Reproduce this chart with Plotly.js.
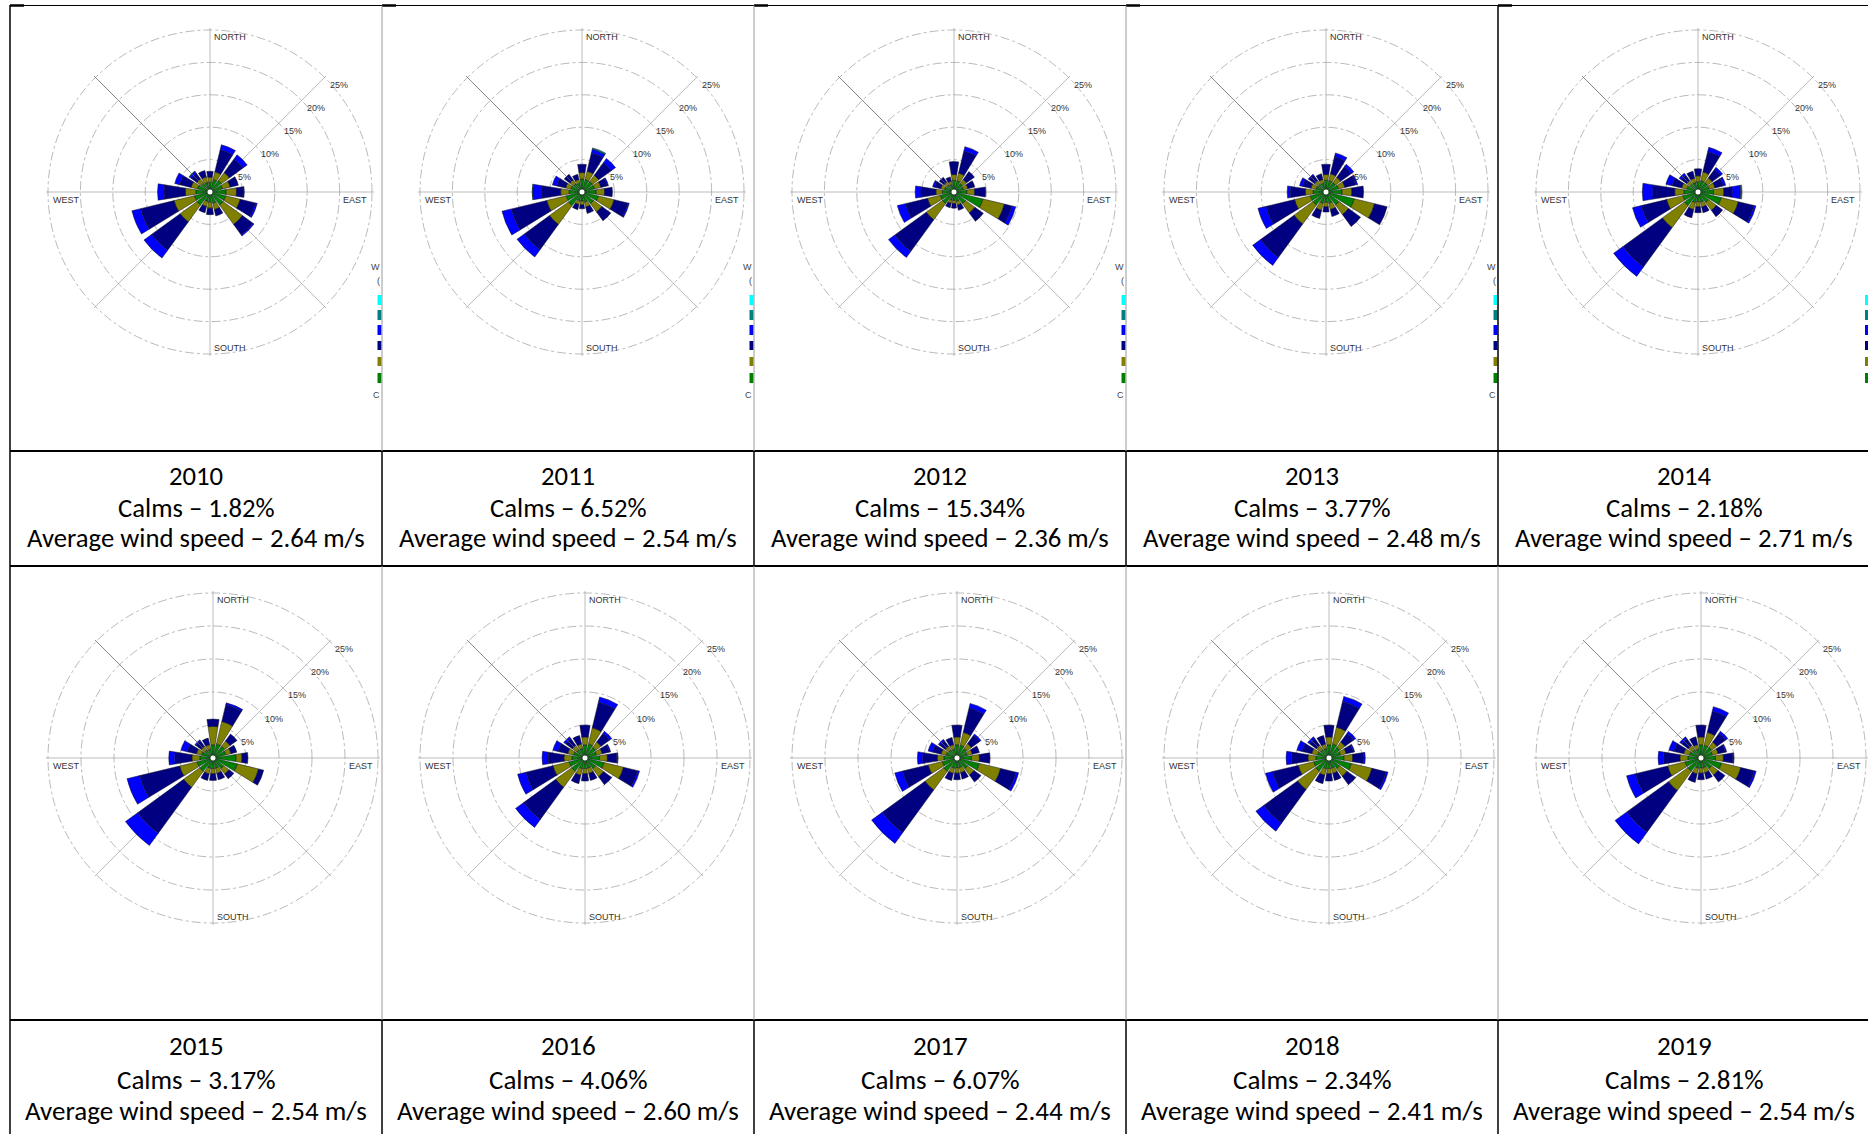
<!DOCTYPE html>
<html>
<head>
<meta charset="utf-8">
<script src="https://cdn.plot.ly/plotly-3.0.1.min.js"></script>
<style>
  html, body { margin: 0; padding: 0; background: #ffffff; }
  #chart { width: 1868px; height: 1134px; }
</style>
</head>
<body>
<div id="chart"></div>
<script>
// ---------------------------------------------------------------------------
// Wind roses 2010–2019: frequency (%) per direction, stacked by wind-speed class
// ---------------------------------------------------------------------------
const directions = ['N','NNE','NE','ENE','E','ESE','SE','SSE','S','SSW','SW','WSW','W','WNW','NW','NNW'];
const speedBins  = ['0.50 - 2.10 m/s','2.10 - 3.60 m/s','3.60 - 5.70 m/s','5.70 - 8.80 m/s','8.80 - 11.10 m/s','>= 11.10 m/s'];
const binColors  = ['#008000','#808000','#000080','#0000ff','#008080','#00ffff'];

const years    = [2010, 2011, 2012, 2013, 2014, 2015, 2016, 2017, 2018, 2019];
const calms    = [1.82, 6.52, 15.34, 3.77, 2.18, 3.17, 4.06, 6.07, 2.34, 2.81];
const avgSpeed = [2.64, 2.54, 2.36, 2.48, 2.71, 2.54, 2.60, 2.44, 2.41, 2.54];

// rows: speed classes (low → high); columns: directions N … NNW
const rose2010 = [
  [1.5, 2.0, 2.2, 2.0, 2.5, 2.5, 2.5, 1.8, 1.6, 1.5, 2.5, 2.5, 2.2, 2.0, 1.7, 1.5],
  [0.8, 1.2, 1.5, 1.2, 1.6, 2.3, 3.7, 1.0, 0.9, 0.8, 3.2, 3.2, 1.6, 1.0, 0.8, 0.9],
  [0.9, 3.5, 2.6, 1.3, 1.0, 2.4, 2.0, 1.0, 1.0, 1.0, 5.4, 5.3, 3.3, 1.8, 1.0, 1.0],
  [0.0, 0.8, 0.8, 0.0, 0.2, 0.3, 0.2, 0.0, 0.0, 0.0, 1.5, 1.4, 1.0, 0.8, 0.4, 0.0],
  [0.0, 0.0, 0.0, 0.0, 0.0, 0.0, 0.0, 0.0, 0.0, 0.0, 0.0, 0.0, 0.0, 0.0, 0.1, 0.0]
];
const rose2011 = [
  [2.0, 2.0, 2.0, 2.0, 2.2, 2.6, 2.2, 1.6, 1.4, 1.4, 2.6, 2.5, 2.0, 1.8, 1.6, 1.4],
  [1.0, 1.3, 1.2, 1.0, 1.3, 2.5, 1.6, 0.8, 0.6, 0.6, 3.6, 3.1, 1.3, 0.8, 0.7, 0.6],
  [1.3, 2.9, 2.4, 1.0, 1.2, 2.2, 1.7, 1.0, 0.6, 0.8, 4.8, 5.6, 2.9, 1.4, 1.1, 0.8],
  [0.0, 0.6, 0.8, 0.2, 0.0, 0.2, 0.0, 0.0, 0.0, 0.0, 1.4, 1.5, 1.4, 0.7, 0.0, 0.0],
  [0.0, 0.2, 0.0, 0.0, 0.0, 0.0, 0.0, 0.0, 0.0, 0.0, 0.0, 0.0, 0.1, 0.0, 0.0, 0.0]
];
const rose2012 = [
  [1.8, 1.8, 1.6, 1.5, 2.0, 4.6, 2.2, 1.5, 1.3, 1.3, 2.2, 2.2, 1.8, 1.5, 1.3, 1.2],
  [0.9, 1.2, 0.8, 0.7, 1.2, 3.4, 1.8, 0.6, 0.5, 0.5, 3.1, 2.0, 1.0, 0.6, 0.6, 0.5],
  [2.0, 3.5, 1.5, 1.1, 1.7, 1.2, 1.6, 0.8, 0.7, 0.7, 6.0, 3.5, 2.3, 1.0, 0.9, 0.7],
  [0.0, 0.7, 0.0, 0.0, 0.0, 0.6, 0.0, 0.0, 0.0, 0.0, 1.2, 1.3, 0.9, 0.3, 0.0, 0.0],
  [0.0, 0.0, 0.0, 0.0, 0.0, 0.0, 0.0, 0.0, 0.0, 0.0, 0.0, 0.0, 0.0, 0.0, 0.0, 0.0]
];
const rose2013 = [
  [1.8, 1.8, 1.8, 2.0, 2.5, 4.5, 2.5, 1.8, 1.6, 1.8, 2.5, 2.5, 2.0, 1.6, 1.5, 1.4],
  [0.9, 1.1, 1.0, 1.0, 1.5, 3.2, 1.8, 1.0, 0.7, 1.1, 3.6, 2.5, 1.2, 0.8, 0.7, 0.6],
  [1.6, 2.7, 2.0, 1.7, 1.8, 2.0, 2.3, 1.1, 0.8, 1.3, 6.4, 4.5, 2.3, 1.3, 1.0, 0.9],
  [0.0, 0.6, 0.5, 0.3, 0.0, 0.0, 0.0, 0.0, 0.0, 0.0, 1.5, 1.3, 0.5, 0.5, 0.2, 0.0],
  [0.0, 0.0, 0.0, 0.0, 0.0, 0.0, 0.0, 0.0, 0.0, 0.0, 0.0, 0.0, 0.0, 0.0, 0.0, 0.0]
];
const rose2014 = [
  [1.6, 1.8, 1.8, 1.8, 2.4, 3.7, 2.0, 1.6, 1.5, 1.7, 2.6, 2.4, 2.2, 1.8, 1.5, 1.5],
  [0.9, 1.4, 0.9, 0.9, 1.6, 2.7, 1.5, 0.8, 0.8, 1.1, 4.2, 2.6, 1.4, 0.8, 0.7, 0.7],
  [1.1, 3.2, 1.6, 1.3, 1.3, 2.5, 1.2, 0.9, 0.9, 1.3, 7.5, 4.0, 3.4, 1.5, 1.0, 1.1],
  [0.0, 0.7, 0.4, 0.4, 1.3, 0.3, 0.0, 0.0, 0.0, 0.0, 1.8, 1.4, 1.6, 1.0, 0.4, 0.0],
  [0.0, 0.0, 0.0, 0.0, 0.2, 0.0, 0.0, 0.0, 0.0, 0.0, 0.0, 0.0, 0.0, 0.0, 0.0, 0.0]
];
const rose2015 = [
  [2.0, 2.2, 2.2, 2.0, 3.5, 3.8, 2.0, 1.6, 1.6, 1.6, 2.5, 2.5, 2.0, 1.8, 1.5, 1.4],
  [2.8, 3.5, 1.0, 0.8, 0.9, 3.3, 1.0, 0.8, 0.8, 0.9, 3.0, 2.7, 1.2, 0.8, 0.7, 0.7],
  [1.1, 2.6, 1.3, 0.9, 0.9, 0.8, 0.9, 1.0, 1.0, 1.0, 8.6, 6.2, 2.6, 1.4, 1.0, 1.0],
  [0.0, 0.3, 0.0, 0.0, 0.0, 0.0, 0.0, 0.0, 0.0, 0.0, 2.3, 2.0, 0.9, 1.0, 0.2, 0.0],
  [0.0, 0.0, 0.0, 0.0, 0.0, 0.0, 0.0, 0.0, 0.0, 0.0, 0.0, 0.0, 0.0, 0.0, 0.0, 0.0]
];
const rose2016 = [
  [2.0, 2.2, 2.0, 1.8, 2.2, 3.0, 2.0, 1.6, 1.6, 1.7, 2.5, 2.5, 2.0, 1.8, 1.6, 1.5],
  [1.2, 2.5, 1.0, 0.9, 1.2, 3.0, 1.5, 0.8, 0.8, 1.0, 3.0, 2.5, 1.2, 0.9, 0.8, 0.7],
  [1.8, 4.0, 1.6, 1.1, 1.4, 2.2, 1.5, 1.1, 1.1, 1.3, 6.0, 4.2, 2.4, 1.5, 1.2, 1.3],
  [0.0, 0.8, 0.4, 0.2, 0.2, 0.3, 0.0, 0.0, 0.0, 0.0, 1.5, 1.3, 0.9, 0.8, 0.4, 0.0],
  [0.0, 0.0, 0.0, 0.0, 0.0, 0.0, 0.0, 0.0, 0.0, 0.0, 0.0, 0.0, 0.0, 0.0, 0.0, 0.0]
];
const rose2017 = [
  [2.0, 2.0, 1.8, 1.6, 2.2, 3.5, 2.0, 1.5, 1.5, 1.6, 2.5, 2.3, 2.0, 1.7, 1.5, 1.4],
  [1.2, 2.0, 0.9, 0.8, 1.2, 3.3, 1.2, 0.8, 0.8, 0.8, 3.5, 2.2, 1.0, 0.8, 0.7, 0.7],
  [1.8, 3.8, 1.5, 1.1, 1.6, 2.4, 1.3, 1.0, 1.0, 1.1, 8.0, 4.0, 2.2, 1.3, 1.0, 1.1],
  [0.0, 0.7, 0.3, 0.0, 0.0, 0.4, 0.0, 0.0, 0.0, 0.0, 2.0, 1.2, 0.8, 0.7, 0.3, 0.0],
  [0.0, 0.0, 0.0, 0.0, 0.0, 0.0, 0.0, 0.0, 0.0, 0.0, 0.0, 0.0, 0.0, 0.0, 0.0, 0.0]
];
const rose2018 = [
  [2.0, 2.2, 2.0, 1.8, 2.3, 3.5, 2.0, 1.6, 1.6, 1.7, 2.5, 2.4, 2.0, 1.8, 1.6, 1.5],
  [1.2, 2.6, 1.0, 0.9, 1.3, 3.2, 1.4, 0.8, 0.8, 1.0, 3.4, 2.4, 1.2, 0.9, 0.8, 0.7],
  [1.8, 4.0, 1.6, 1.1, 1.7, 2.2, 1.6, 1.1, 1.1, 1.3, 6.3, 4.0, 2.5, 1.5, 1.2, 1.3],
  [0.0, 0.8, 0.4, 0.2, 0.2, 0.3, 0.0, 0.0, 0.0, 0.0, 1.5, 1.1, 0.8, 0.8, 0.4, 0.0],
  [0.0, 0.0, 0.0, 0.0, 0.0, 0.0, 0.0, 0.0, 0.0, 0.0, 0.0, 0.0, 0.0, 0.0, 0.0, 0.0]
];
const rose2019 = [
  [2.0, 2.0, 2.0, 1.8, 2.2, 3.2, 2.0, 1.5, 1.5, 1.6, 2.5, 2.5, 2.0, 1.8, 1.6, 1.4],
  [1.2, 2.0, 1.0, 0.9, 1.2, 3.0, 1.2, 0.8, 0.8, 0.9, 3.6, 2.7, 1.2, 0.9, 0.8, 0.7],
  [1.8, 3.3, 1.6, 1.1, 1.4, 2.1, 1.3, 1.0, 1.0, 1.3, 7.8, 5.0, 2.5, 1.5, 1.2, 1.2],
  [0.0, 0.7, 0.4, 0.2, 0.2, 0.3, 0.0, 0.0, 0.0, 0.0, 2.2, 1.4, 0.8, 0.8, 0.4, 0.0],
  [0.0, 0.0, 0.0, 0.0, 0.0, 0.0, 0.0, 0.0, 0.0, 0.0, 0.0, 0.0, 0.0, 0.0, 0.0, 0.0]
];
const roses = [rose2010, rose2011, rose2012, rose2013, rose2014,
               rose2015, rose2016, rose2017, rose2018, rose2019];

const ringValues = [5, 10, 15, 20, 25];
const ringLabels = ['5%', '10%', '15%', '20%', '25%'];
const gridDirections = ['N', 'NE', 'E', 'SE', 'S', 'SW', 'W', 'NW'];

// ---------------------------------------------------------------------------
// Page geometry (pixels)
// ---------------------------------------------------------------------------
const W = 1868, H = 1134;
const tableLeft = 10, colW = 372;
const roseRows = [
  { cy: 192, cx0: 210, R: 162 },   // R = radius of the 25 % ring
  { cy: 758, cx0: 213, R: 165 }
];
const textRows = [
  { lines: [476, 508, 538], size: 26.7 },
  { lines: [1045, 1079, 1110], size: 27 }
];
const maxR = 25;
const rangeMax = 25.3;   // slightly beyond the outer ring so that ring keeps its gridline

const px = x => x / W;
const py = y => 1 - y / H;

const labelFont = { family: 'Liberation Sans, Arial, sans-serif', size: 9, color: '#333333' };
const cellFont  = { family: 'Carlito, Calibri, "Open Sans", sans-serif', color: '#000000' };

const traces = [];
const layout = {
  width: W, height: H,
  margin: { l: 0, r: 0, t: 0, b: 0 },
  paper_bgcolor: '#ffffff',
  showlegend: false,
  annotations: [],
  shapes: []
};

years.forEach((yr, k) => {
  const row = roseRows[Math.floor(k / 5)];
  const col = k % 5;
  const cx = row.cx0 + col * colW, cy = row.cy;
  const Rdom = row.R * rangeMax / maxR;
  const key = k === 0 ? 'polar' : 'polar' + (k + 1);

  roses[k].forEach((vals, b) => {
    traces.push({
      type: 'barpolar',
      subplot: key,
      name: speedBins[b],
      theta: directions,
      r: vals,
      marker: { color: binColors[b], line: { color: '#101020', width: 0.5 } },
      hovertemplate: yr + ' %{theta}: %{r}%<extra>' + speedBins[b] + '</extra>'
    });
  });

  layout[key] = {
    domain: { x: [px(cx - Rdom), px(cx + Rdom)], y: [py(cy + Rdom), py(cy - Rdom)] },
    bgcolor: 'rgba(0,0,0,0)',
    barmode: 'stack',
    bargap: 0.2,
    angularaxis: {
      type: 'category', categoryarray: directions,
      rotation: 90, direction: 'clockwise',
      tickmode: 'array', tickvals: gridDirections,
      showticklabels: false, ticks: '',
      showgrid: true, gridcolor: '#ababab', gridwidth: 0.8,
      showline: false
    },
    radialaxis: {
      range: [0, rangeMax],
      tickmode: 'array', tickvals: ringValues,
      showticklabels: false, ticks: '',
      showgrid: true, gridcolor: '#9c9c9c', gridwidth: 0.7, griddash: 'dashdot',
      showline: true, linecolor: '#6a6a6a', linewidth: 0.6, angle: 135
    }
  };

  const ringR = v => row.R * v / maxR;

  // compass labels
  const ann = (text, x, y, xanchor) => layout.annotations.push({
    text, x: px(x), y: py(y), xref: 'paper', yref: 'paper',
    xanchor, yanchor: 'middle', showarrow: false, font: labelFont
  });
  const Rout = ringR(maxR);
  ann('NORTH', cx + 2, cy - Rout + 7, 'left');
  ann('SOUTH', cx + 2, cy + Rout - 6, 'left');
  ann('WEST',  cx - Rout + 3, cy + 8, 'left');
  ann('EAST',  cx + Rout - 3, cy + 8, 'right');

  // ring labels along the north-east diagonal
  ringValues.forEach((v, i) => {
    const rr = ringR(v);
    const bx = cx + rr * Math.SQRT1_2, by = cy - rr * Math.SQRT1_2;
    ann(ringLabels[i], bx + 3, by + 7.5, 'left');
  });

  // calm circle at the centre
  layout.shapes.push({
    type: 'circle', xref: 'paper', yref: 'paper', layer: 'above',
    x0: px(cx - 3), x1: px(cx + 3), y0: py(cy + 3), y1: py(cy - 3),
    fillcolor: '#ffffff', line: { color: '#1a3a1a', width: 0.8 }
  });

  // caption cell
  const tr = textRows[Math.floor(k / 5)];
  const tx = tableLeft + col * colW + colW / 2;
  const captions = [String(yr), 'Calms – ' + calms[k].toFixed(2) + '%',
                    'Average wind speed – ' + avgSpeed[k].toFixed(2) + ' m/s'];
  captions.forEach((t, i) => layout.annotations.push({
    text: t, x: px(tx), y: py(tr.lines[i]), xref: 'paper', yref: 'paper',
    xanchor: 'center', yanchor: 'middle', showarrow: false,
    font: Object.assign({ size: tr.size }, cellFont)
  }));
});

// ---------------------------------------------------------------------------
// Legend fragments clipped at the right edge of the upper cells
// ---------------------------------------------------------------------------
const swatchRows = [[295, 305], [310, 320], [325, 335], [341, 350], [357, 366], [373, 383]];
const swatchColors = [binColors[5], binColors[4], binColors[3], binColors[2], binColors[1], binColors[0]];
for (let col = 0; col < 5; col++) {
  const edge = tableLeft + (col + 1) * colW;
  const x0 = col < 4 ? edge - 4.5 : W - 3;
  const x1 = col < 4 ? edge - 0.5 : W;
  swatchRows.forEach((yy, i) => layout.shapes.push({
    type: 'rect', xref: 'paper', yref: 'paper', layer: 'above',
    x0: px(x0), x1: px(x1), y0: py(yy[1]), y1: py(yy[0]),
    fillcolor: swatchColors[i], line: { width: 0 }
  }));
  if (col < 4) {
    [['W', 267], ['(', 281], ['C', 395]].forEach(([t, yy]) => layout.annotations.push({
      text: t, x: px(edge), y: py(yy), xref: 'paper', yref: 'paper',
      xanchor: 'right', yanchor: 'middle', showarrow: false,
      font: { family: labelFont.family, size: 9, color: '#444444' }
    }));
  }
}

// ---------------------------------------------------------------------------
// Table rules
// ---------------------------------------------------------------------------
const hline = (y, w, c) => layout.shapes.push({
  type: 'line', xref: 'paper', yref: 'paper', layer: 'above',
  x0: px(tableLeft), x1: px(W + 2), y0: py(y), y1: py(y), line: { color: c, width: w }
});
const vline = (x, y0, y1, w, c) => layout.shapes.push({
  type: 'line', xref: 'paper', yref: 'paper', layer: 'above',
  x0: px(x), x1: px(x), y0: py(y0), y1: py(y1), line: { color: c, width: w }
});
hline(5.5, 1, '#000000');
for (let col = 0; col < 5; col++) {
  const x0 = tableLeft + col * colW;
  layout.shapes.push({
    type: 'line', xref: 'paper', yref: 'paper', layer: 'above',
    x0: px(x0), x1: px(x0 + 14), y0: py(5.5), y1: py(5.5), line: { color: '#000000', width: 2.5 }
  });
}
hline(451, 2, '#000000');
hline(566, 2, '#000000');
hline(1020, 2, '#000000');
vline(tableLeft, 5, H + 2, 1.5, '#000000');
for (let col = 1; col < 5; col++) {
  const x = tableLeft + col * colW;
  const firstRowBlack = col === 4;
  vline(x, 5.5, 451, firstRowBlack ? 1.5 : 1, firstRowBlack ? '#000000' : '#9a9a9a');
  vline(x, 451, 566, 1.5, '#000000');
  vline(x, 566, 1020, 1, '#9a9a9a');
  vline(x, 1020, H + 2, 1.5, '#000000');
}

Plotly.newPlot('chart', traces, layout, { staticPlot: true, displayModeBar: false });
</script>
</body>
</html>
